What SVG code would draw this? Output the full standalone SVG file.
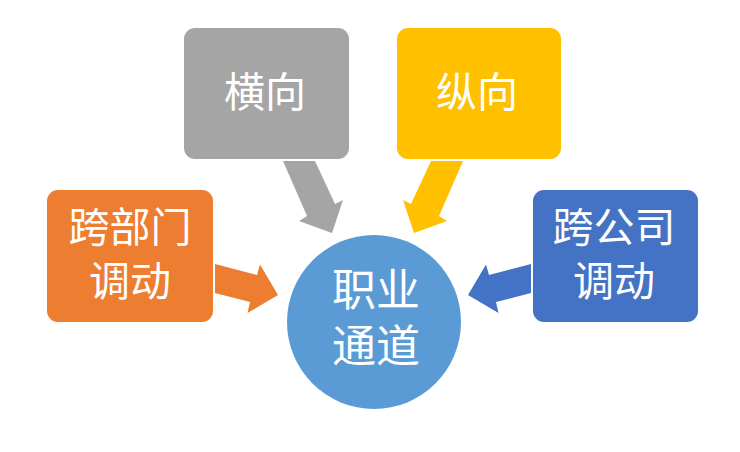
<svg xmlns="http://www.w3.org/2000/svg" width="740" height="452" viewBox="0 0 740 452">
<style>
.lbl{font-family:"Liberation Sans","Noto Sans CJK SC","Noto Sans CJK JP",sans-serif;fill:#ffffff;text-anchor:middle;font-size:41px}
.big{font-size:44px}
</style>
<rect width="740" height="452" fill="#ffffff"/>
<g id="connectors">
<polygon id="arrow-gray" fill="#A5A5A5" points="283,161 315,161 335,204 343,200 332,233 299,221 307,216"/>
<polygon id="arrow-yellow" fill="#FFC000" points="463,161 431,161 411,204 403,200 414,233 447,221 439,216"/>
<polygon id="arrow-orange" fill="#ED7D31" points="215,264 257,275 260,264.5 278,295 247.5,313 250,302 215,293"/>
<polygon id="arrow-blue" fill="#4472C4" points="531,264 489,275 486,264.5 468,295 498.5,313 496,302 531,293"/>
</g>
<g id="node-heng">
<rect x="184" y="28" width="165" height="131" rx="11" fill="#A5A5A5"/>
<text class="lbl" x="265" y="107">横向</text>
</g>
<g id="node-zong">
<rect x="397" y="28" width="164" height="131" rx="11" fill="#FFC000"/>
<text class="lbl" x="477" y="107">纵向</text>
</g>
<g id="node-bumen">
<rect x="47" y="190" width="166" height="132" rx="11" fill="#ED7D31"/>
<text class="lbl" x="130" y="242">跨部门</text>
<text class="lbl" x="130" y="296">调动</text>
</g>
<g id="node-gongsi">
<rect x="533" y="190" width="165" height="132" rx="11" fill="#4472C4"/>
<text class="lbl" x="614" y="242">跨公司</text>
<text class="lbl" x="614" y="296">调动</text>
</g>
<g id="node-center">
<circle cx="374" cy="322" r="87" fill="#5B9BD5"/>
<text class="lbl big" x="376" y="306">职业</text>
<text class="lbl big" x="376" y="362">通道</text>
</g>
</svg>
